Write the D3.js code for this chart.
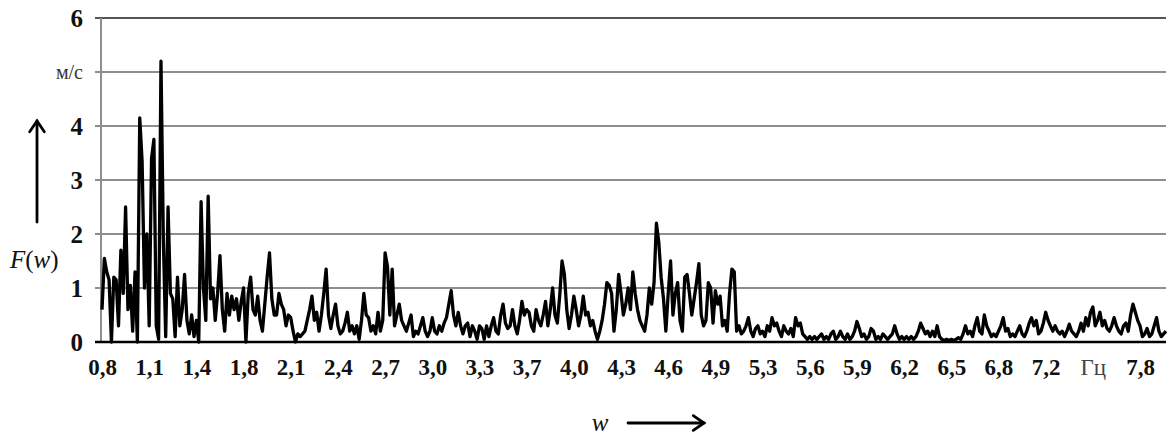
<!DOCTYPE html>
<html>
<head>
<meta charset="utf-8">
<style>
  body { margin: 0; background: #fff; }
  svg text { font-family: "Liberation Serif", "Times New Roman", serif; fill: #111; }
  .grid line { stroke: #8e8e8e; stroke-width: 2; }
  .yax text { font-size: 25px; font-weight: bold; }
  .xax text { font-size: 23px; font-weight: bold; }
</style>
<script src="https://d3js.org/d3.v7.min.js"></script>
</head>
<body>
<svg width="1168" height="439"></svg>
<script>
// x tick labels (one every ptsPerTick samples); "Гц" stands in for 7,5
var tickLabels = ["0,8","1,1","1,4","1,8","2,1","2,4","2,7","3,0","3,3","3,7","4,0","4,3",
                  "4,6","4,9","5,3","5,6","5,9","6,2","6,5","6,8","7,2","Гц","7,8"];
var ptsPerTick = 20;

var yTicks = [0, 1, 2, 3, 4, 5, 6];
var yTickText = ["0", "1", "2", "3", "4", "м/с", "6"];

// spectrum amplitude F(w), m/s
var amp = [
  // 0,8 .. 1,1
  0.6,1.55,1.3,1.15,0.0,1.2,1.15,0.3,1.7,0.9,2.5,0.6,1.05,0.2,1.3,0.0,4.15,3.35,1.0,2.0,
  // 1,1 .. 1,4
  0.3,3.4,3.75,0.3,0.05,5.2,1.9,0.1,2.5,0.9,0.8,0.1,1.2,0.3,0.6,1.25,0.4,0.15,0.5,0.1,
  // 1,4 .. 1,8
  0.4,0.0,2.6,1.0,0.4,2.7,0.8,1.0,0.4,0.9,1.6,0.6,0.2,0.9,0.5,0.85,0.6,0.8,0.4,0.75,
  // 1,8 .. 2,1
  1.0,0.0,0.9,1.2,0.6,0.5,0.85,0.4,0.2,0.7,1.2,1.65,0.8,0.5,0.5,0.9,0.7,0.6,0.3,0.5,
  // 2,1 .. 2,4
  0.45,0.2,0.0,0.15,0.1,0.15,0.2,0.4,0.6,0.85,0.4,0.55,0.2,0.5,0.9,1.35,0.5,0.25,0.5,0.7,
  // 2,4 .. 2,7
  0.3,0.15,0.2,0.35,0.55,0.2,0.3,0.15,0.3,0.05,0.4,0.9,0.5,0.45,0.2,0.3,0.15,0.55,0.2,0.4,
  // 2,7 .. 3,0
  1.65,1.4,0.5,1.35,0.3,0.5,0.7,0.4,0.3,0.2,0.35,0.5,0.1,0.2,0.15,0.3,0.45,0.2,0.1,0.2,
  // 3,0 .. 3,3
  0.45,0.2,0.15,0.3,0.2,0.35,0.45,0.7,0.95,0.5,0.3,0.55,0.3,0.15,0.3,0.35,0.1,0.3,0.2,0.05,
  // 3,3 .. 3,7
  0.3,0.25,0.05,0.3,0.1,0.3,0.45,0.2,0.15,0.5,0.7,0.35,0.25,0.3,0.6,0.3,0.15,0.4,0.75,0.5,
  // 3,7 .. 4,0
  0.6,0.55,0.3,0.2,0.6,0.4,0.3,0.5,0.75,0.3,0.6,1.0,0.5,0.35,0.85,1.5,1.25,0.6,0.25,0.5,
  // 4,0 .. 4,3
  0.85,0.6,0.3,0.5,0.85,0.5,0.55,0.3,0.4,0.2,0.05,0.2,0.4,0.7,1.1,1.05,0.9,0.2,0.6,1.25,
  // 4,3 .. 4,6
  0.9,0.5,0.7,1.0,0.6,1.3,0.9,0.6,0.4,0.3,0.2,0.5,1.0,0.7,1.1,2.2,1.85,1.2,0.8,0.2,
  // 4,6 .. 4,9
  0.9,1.5,0.5,0.9,1.1,0.4,0.2,1.2,1.25,0.9,0.5,0.8,1.1,1.45,0.5,0.3,0.4,1.1,1.0,0.35,
  // 4,9 .. 5,3
  0.95,0.7,0.85,0.3,0.4,0.2,0.9,1.35,1.3,0.2,0.3,0.15,0.2,0.3,0.45,0.2,0.1,0.25,0.3,0.15,
  // 5,3 .. 5,6
  0.2,0.1,0.3,0.2,0.45,0.3,0.35,0.2,0.1,0.3,0.2,0.15,0.25,0.1,0.45,0.3,0.35,0.15,0.1,0.05,
  // 5,6 .. 5,9
  0.1,0.05,0.1,0.05,0.1,0.15,0.05,0.1,0.05,0.15,0.2,0.05,0.1,0.2,0.1,0.05,0.15,0.05,0.1,0.2,
  // 5,9 .. 6,2
  0.38,0.25,0.1,0.15,0.05,0.1,0.25,0.2,0.05,0.1,0.05,0.15,0.1,0.05,0.1,0.15,0.3,0.15,0.05,0.1,
  // 6,2 .. 6,5
  0.05,0.1,0.05,0.1,0.05,0.1,0.2,0.35,0.25,0.15,0.2,0.1,0.2,0.1,0.3,0.1,0.05,0.03,0.05,0.03,
  // 6,5 .. 6,8
  0.05,0.03,0.05,0.08,0.05,0.15,0.3,0.15,0.2,0.1,0.3,0.45,0.2,0.15,0.5,0.3,0.2,0.1,0.15,0.1,
  // 6,8 .. 7,2
  0.2,0.3,0.45,0.2,0.25,0.1,0.15,0.1,0.2,0.3,0.15,0.1,0.2,0.35,0.45,0.3,0.4,0.15,0.2,0.35,
  // 7,2 .. 7,5
  0.55,0.4,0.3,0.2,0.3,0.2,0.15,0.2,0.1,0.2,0.33,0.2,0.15,0.1,0.2,0.35,0.2,0.45,0.3,0.55,
  // 7,5 .. 7,8
  0.65,0.3,0.4,0.55,0.3,0.4,0.25,0.2,0.3,0.45,0.3,0.2,0.15,0.3,0.35,0.2,0.5,0.7,0.55,0.4,
  // 7,8 ..
  0.3,0.1,0.15,0.25,0.1,0.15,0.3,0.45,0.2,0.1,0.15,0.2
];

var svg = d3.select("svg");
var plotLeft = 102, plotRight = 1166, plotTop = 18, plotBottom = 342;

var x = d3.scaleLinear().domain([0, amp.length - 1]).range([plotLeft, plotRight]);
var y = d3.scaleLinear().domain([0, 6]).range([plotBottom, plotTop]);

// horizontal grid (with short ticks to the left of the axis)
svg.append("g").attr("class", "grid")
   .selectAll("line")
   .data(yTicks.filter(function(d) { return d > 0; }))
   .enter().append("line")
   .attr("x1", plotLeft - 7).attr("x2", plotRight)
   .attr("y1", function(d) { return y(d); })
   .attr("y2", function(d) { return y(d); })
   .style("stroke", function(d) { return d == 6 ? "#555" : null; });

// left axis line
svg.append("line")
   .attr("x1", plotLeft - 1).attr("x2", plotLeft - 1)
   .attr("y1", y(6)).attr("y2", y(0))
   .attr("stroke", "#8e8e8e").attr("stroke-width", 2);

// y labels
var yAxis = d3.axisLeft(y).tickValues(yTicks)
    .tickFormat(function(d, i) { return yTickText[i]; })
    .tickSize(0).tickPadding(19);
var gy = svg.append("g").attr("class", "yax")
    .attr("transform", "translate(" + plotLeft + ",0)")
    .call(yAxis);
gy.select(".domain").remove();
gy.selectAll("text").attr("dy", "0.34em")
  .filter(function(d) { return d == 5; })
  .style("font-size", "20px").style("font-weight", "normal").style("fill", "#333");

// spectrum line
var line = d3.line()
    .x(function(d, i) { return x(i); })
    .y(function(d) { return y(d); });

svg.append("path")
   .datum(amp)
   .attr("d", line)
   .attr("fill", "none")
   .attr("stroke", "#000")
   .attr("stroke-width", 3.3)
   .attr("stroke-linejoin", "round");

// x baseline
svg.append("line")
   .attr("x1", plotLeft - 7).attr("x2", plotRight)
   .attr("y1", y(0)).attr("y2", y(0))
   .attr("stroke", "#000").attr("stroke-width", 2.5);

// x labels
var xAxis = d3.axisBottom(x)
    .tickValues(tickLabels.map(function(d, i) { return i * ptsPerTick; }))
    .tickFormat(function(d, i) { return tickLabels[i]; })
    .tickSize(0).tickPadding(17);
var gx = svg.append("g").attr("class", "xax")
    .attr("transform", "translate(0," + plotBottom + ")")
    .call(xAxis);
gx.select(".domain").remove();
gx.selectAll("text").filter(function(d, i) { return tickLabels[i] == "Гц"; })
  .style("font-weight", "normal").style("fill", "#444");

// axis names with arrows
function arrow(x1, y1, x2, y2, head) {
    var a = Math.atan2(y2 - y1, x2 - x1);
    var g = svg.append("g").attr("stroke", "#000").attr("stroke-width", 2.8)
               .attr("fill", "none").attr("stroke-linecap", "round");
    g.append("line").attr("x1", x1).attr("y1", y1).attr("x2", x2).attr("y2", y2);
    g.append("path").attr("d",
        "M" + (x2 - head * Math.cos(a - 0.6)) + "," + (y2 - head * Math.sin(a - 0.6)) +
        "L" + x2 + "," + y2 +
        "L" + (x2 - head * Math.cos(a + 0.6)) + "," + (y2 - head * Math.sin(a + 0.6)));
}
arrow(37, 222, 37, 121, 13);
arrow(628, 423, 704, 423, 13);

var fw = svg.append("text").attr("x", 10).attr("y", 268).style("font-size", "25px");
fw.append("tspan").style("font-style", "italic").text("F");
fw.append("tspan").text("(");
fw.append("tspan").style("font-style", "italic").text("w");
fw.append("tspan").text(")");

svg.append("text").attr("x", 600).attr("y", 431)
   .attr("text-anchor", "middle")
   .style("font-size", "25px").style("font-style", "italic")
   .text("w");
</script>
</body>
</html>
